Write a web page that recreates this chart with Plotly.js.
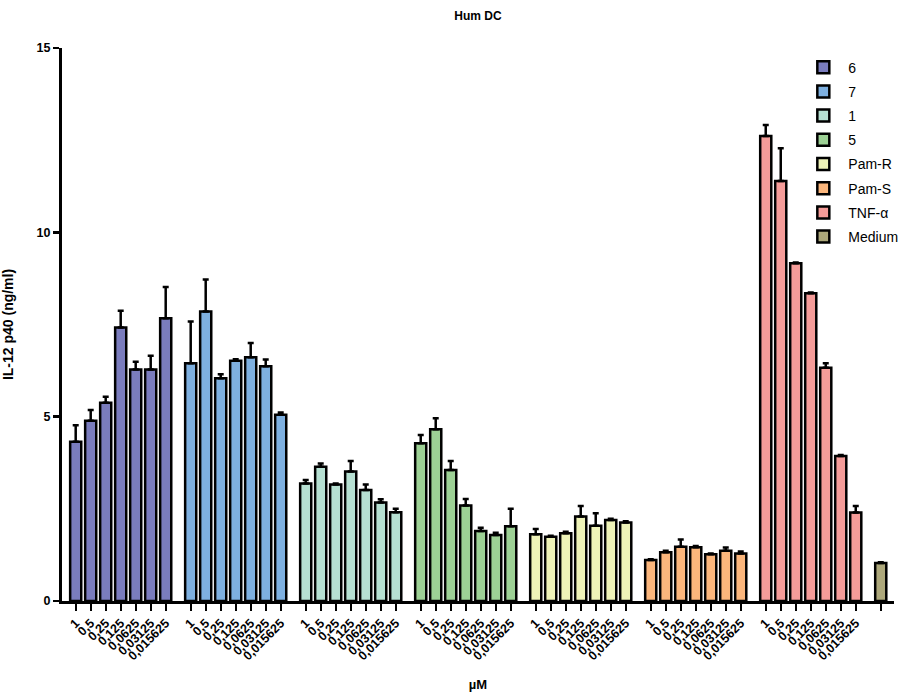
<!DOCTYPE html>
<html>
<head>
<meta charset="utf-8">
<script src="https://cdn.plot.ly/plotly-3.0.1.min.js"></script>
<style>html,body{margin:0;padding:0;background:#fff;}#chart{width:921px;height:692px;}</style>
</head>
<body>
<div id="chart"></div>
<script>
// ---- data ----
const doses = ["1", "0,5", "0,25", "0,125", "0,0625", "0,03125", "0,015625"];
const seriesNames = ["6", "7", "1", "5", "Pam-R", "Pam-S", "TNF-α", "Medium"];
const s6      = [4.32, 4.89, 5.38, 7.42, 6.28, 6.28, 7.67];
const s6err   = [0.45, 0.29, 0.16, 0.45, 0.21, 0.37, 0.85];
const s7      = [6.45, 7.85, 6.04, 6.52, 6.61, 6.37, 5.05];
const s7err   = [1.13, 0.87, 0.11, 0.04, 0.39, 0.18, 0.06];
const s1      = [3.19, 3.64, 3.16, 3.51, 3.01, 2.67, 2.41];
const s1err   = [0.09, 0.09, 0.03, 0.29, 0.15, 0.09, 0.09];
const s5      = [4.28, 4.66, 3.55, 2.59, 1.90, 1.79, 2.03];
const s5err   = [0.22, 0.30, 0.25, 0.18, 0.09, 0.06, 0.47];
const pamR    = [1.81, 1.74, 1.84, 2.29, 2.04, 2.20, 2.13];
const pamRerr = [0.14, 0.03, 0.04, 0.29, 0.34, 0.03, 0.03];
const pamS    = [1.11, 1.32, 1.47, 1.46, 1.27, 1.36, 1.29];
const pamSerr = [0.02, 0.04, 0.20, 0.03, 0.02, 0.09, 0.05];
const tnf     = [12.61, 11.39, 9.16, 8.35, 6.33, 3.93, 2.40];
const tnferr  = [0.30, 0.89, 0.02, 0.02, 0.12, 0.03, 0.18];
const medium  = [1.03];
const mediumErr = [0.02];

const allValues = [s6, s7, s1, s5, pamR, pamS, tnf, medium];
const allErrors = [s6err, s7err, s1err, s5err, pamRerr, pamSerr, tnferr, mediumErr];
const colors = ["#7a7cbd", "#7eb0e0", "#b6e0d2", "#9dd195", "#eef3b8", "#fbb67c", "#f59c99", "#ada87b"];

// ---- layout of the bar slots ----
const slotsPerGroup = 7;
const groupGap = 25 / 15;                // gap between groups in slot units
const groupStep = (slotsPerGroup - 1) + groupGap;

const traces = [];
const tickvals = [];
const ticktext = [];
allValues.forEach((vals, g) => {
  const xs = vals.map((_, i) => g * groupStep + i);
  xs.forEach((x, i) => {
    tickvals.push(x);
    ticktext.push(vals.length > 1 ? doses[i] : "");
  });
  traces.push({
    type: "bar",
    name: seriesNames[g],
    legendgroup: "g" + g,
    x: xs,
    y: vals,
    width: 0.74,
    marker: {color: colors[g], line: {color: "#000", width: 2.5}},
    error_y: {
      type: "data", symmetric: false,
      array: allErrors[g],
      arrayminus: vals.map(() => 0),
      color: "#000", thickness: 2.5, width: 3
    },
    hoverinfo: "skip"
  });
});

const bold = {family: "Arial, 'Liberation Sans', sans-serif", weight: "bold", color: "#000"};

const layout = {
  width: 921, height: 692,
  margin: {l: 62, r: 27, t: 48, b: 91},
  paper_bgcolor: "#fff", plot_bgcolor: "#fff",
  showlegend: true,
  bargap: 0,
  title: {text: "Hum DC", x: 0.519, xanchor: "center", y: 0.977, yanchor: "middle",
          font: Object.assign({size: 12}, bold)},
  xaxis: {
    range: [-0.913, 54.55],
    showgrid: false, zeroline: false,
    showline: true, linecolor: "#000", linewidth: 3,
    tickmode: "array", tickvals: tickvals, ticktext: ticktext,
    ticks: "outside", ticklen: 7, tickwidth: 2, tickcolor: "#000",
    tickangle: -45,
    tickfont: Object.assign({size: 12.5}, bold),
    title: {text: "µM", standoff: 29, font: Object.assign({size: 13}, bold)}
  },
  yaxis: {
    range: [0, 15],
    showgrid: false, zeroline: false,
    showline: true, linecolor: "#000", linewidth: 3,
    tickmode: "array", tickvals: [0, 5, 10, 15],
    ticks: "outside", ticklen: 6, tickwidth: 2.5, tickcolor: "#000",
    tickfont: Object.assign({size: 12.5}, bold),
    title: {text: "IL-12 p40 (ng/ml)", standoff: 20, font: Object.assign({size: 14}, bold)}
  },
  legend: {
    x: 0.885, xanchor: "left", y: 0.9935, yanchor: "top",
    bgcolor: "rgba(0,0,0,0)",
    font: {family: "Arial, 'Liberation Sans', sans-serif", size: 14, color: "#000"},
    tracegroupgap: 3,
    itemwidth: 40
  }
};

Plotly.newPlot("chart", traces, layout, {displayModeBar: false, staticPlot: true});
</script>
</body>
</html>
